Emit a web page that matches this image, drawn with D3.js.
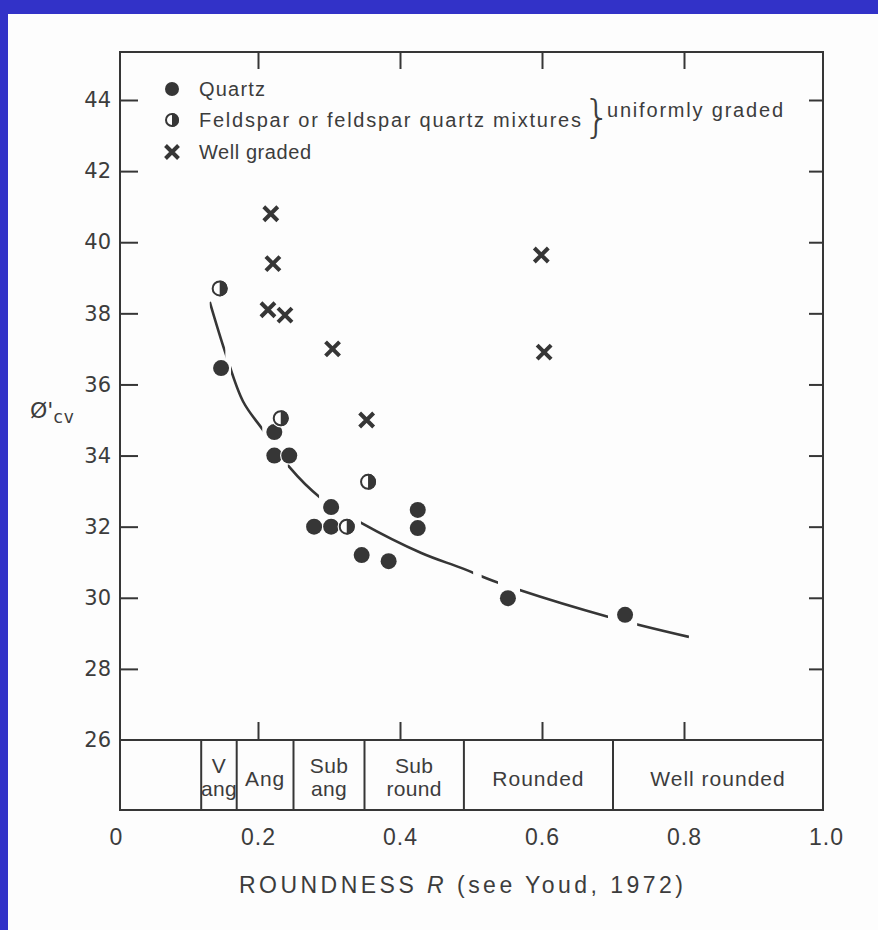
<!DOCTYPE html>
<html>
<head>
<meta charset="utf-8">
<script src="https://cdn.jsdelivr.net/npm/d3@7"></script>
<style>
  html, body { margin: 0; padding: 0; background: #3232c8; }
  svg { display: block; }
</style>
</head>
<body>
<svg id="chart" width="878" height="930"></svg>
<script>
// ---------- data ----------
const roundnessTicks = [0, 0.2, 0.4, 0.6, 0.8, 1.0];
const roundnessTickLabels = ["0", "0.2", "0.4", "0.6", "0.8", "1.0"];
const phiTicks = [26, 28, 30, 32, 34, 36, 38, 40, 42, 44];

const quartzR   = [0.148, 0.223, 0.223, 0.244, 0.279, 0.303, 0.303, 0.346, 0.384, 0.425, 0.425, 0.552, 0.717];
const quartzPhi = [36.46, 34.66, 34.00, 34.00, 32.00, 32.55, 32.00, 31.20, 31.03, 32.47, 31.96, 29.99, 29.52];

const feldsparR   = [0.146, 0.232, 0.355, 0.325];
const feldsparPhi = [38.70, 35.05, 33.26, 32.00];

const wellR   = [0.218, 0.221, 0.214, 0.238, 0.305, 0.353, 0.599, 0.603];
const wellPhi = [40.80, 39.40, 38.10, 37.95, 37.00, 35.00, 39.64, 36.91];

// hand-drawn trend curve (broken into dashes in the original)
const curveR   = [0.132, 0.155, 0.179, 0.207, 0.244, 0.287, 0.346, 0.430, 0.486, 0.539, 0.694, 0.807];
const curvePhi = [38.32, 36.83, 35.52, 34.72, 33.68, 32.83, 32.10, 31.26, 30.84, 30.42, 29.46, 28.90];
const curveSegStart = [0.132, 0.162, 0.242, 0.345, 0.515, 0.569, 0.734];
const curveSegEnd   = [0.154, 0.206, 0.286, 0.503, 0.538, 0.693, 0.807];

const classBounds = [0.12, 0.17, 0.25, 0.35, 0.49, 0.70, 1.0];
const classLabels = [["V", "ang"], ["Ang"], ["Sub", "ang"], ["Sub", "round"], ["Rounded"], ["Well rounded"]];

const legendLabels = ["Quartz", "Feldspar or feldspar quartz mixtures", "Well graded"];
const braceLabel = "uniformly graded";
const xTitle = ["ROUNDNESS ", "R", " (see Youd, 1972)"];

// ---------- layout ----------
const INK = "#363636";
const TXT = "#3c3c3c";
const PAPER = "#fdfdfd";
const svg = d3.select("#chart");

svg.append("rect").attr("x", 8).attr("y", 14).attr("width", 870).attr("height", 916).attr("fill", PAPER);

const frameL = 120, frameR = 823, frameT = 52, bandT = 740, bandB = 810;
const x = d3.scaleLinear().domain([0, 1]).range([116, 826]);
const y = d3.scaleLinear().domain([26, 44]).range([740, 100]);

const g = svg.append("g");
g.append("rect").attr("x", frameL).attr("y", frameT).attr("width", frameR - frameL).attr("height", bandB - frameT)
  .attr("fill", "none").attr("stroke", INK).attr("stroke-width", 2);
g.append("line").attr("x1", frameL).attr("x2", frameR).attr("y1", bandT).attr("y2", bandT)
  .attr("stroke", INK).attr("stroke-width", 2);

function styleAxis(sel) {
  sel.select(".domain").remove();
  sel.selectAll(".tick line").attr("stroke", INK).attr("stroke-width", 2);
  sel.selectAll(".tick text").attr("fill", TXT);
}

// left axis
const leftAx = g.append("g").attr("transform", `translate(${frameL},0)`)
  .call(d3.axisLeft(y).tickValues(phiTicks).tickSize(-18).tickPadding(9).tickFormat(d3.format("d")));
styleAxis(leftAx);
leftAx.selectAll(".tick text").attr("font-family", "DejaVu Sans").attr("font-size", 21);
leftAx.selectAll(".tick").filter(d => d === 26).select("line").remove();

// right axis ticks
const rightAx = g.append("g").attr("transform", `translate(${frameR},0)`)
  .call(d3.axisRight(y).tickValues(phiTicks.filter(d => d > 26)).tickSize(-14).tickFormat(""));
styleAxis(rightAx);

// top axis ticks
const topAx = g.append("g").attr("transform", `translate(0,${frameT})`)
  .call(d3.axisTop(x).tickValues([0.2, 0.4, 0.6, 0.8]).tickSize(-17).tickFormat(""));
styleAxis(topAx);

// ticks above the class band
const bandAx = g.append("g").attr("transform", `translate(0,${bandT})`)
  .call(d3.axisBottom(x).tickValues([0.2, 0.4, 0.6, 0.8]).tickSize(-18).tickFormat(""));
styleAxis(bandAx);

// bottom labels
const botAx = g.append("g").attr("transform", `translate(0,${bandB})`)
  .call(d3.axisBottom(x).tickValues(roundnessTicks).tickSize(0).tickPadding(19)
    .tickFormat((d, i) => roundnessTickLabels[i]));
styleAxis(botAx);
botAx.selectAll(".tick text").attr("font-family", "Liberation Sans").attr("font-size", 23)
  .attr("letter-spacing", 1);

// class band
classBounds.slice(0, -1).forEach((b) => {
  g.append("line").attr("x1", x(b)).attr("x2", x(b)).attr("y1", bandT).attr("y2", bandB)
    .attr("stroke", INK).attr("stroke-width", 2);
});
classLabels.forEach((lab, i) => {
  const cx = (x(classBounds[i]) + Math.min(x(classBounds[i + 1]), frameR)) / 2;
  const t = g.append("text").attr("x", cx).attr("text-anchor", "middle")
    .attr("font-family", "Liberation Sans").attr("font-size", 21).attr("fill", TXT)
    .attr("letter-spacing", lab.length === 1 ? 1 : 0.3);
  if (lab.length === 1) {
    t.attr("y", 786).text(lab[0]);
  } else {
    t.append("tspan").attr("x", cx).attr("y", 773).text(lab[0]);
    t.append("tspan").attr("x", cx).attr("y", 796).text(lab[1]);
  }
});

// x title
const tt = svg.append("text").attr("x", 461).attr("y", 893).attr("text-anchor", "middle")
  .attr("font-family", "Liberation Sans").attr("font-size", 23).attr("fill", TXT)
  .attr("textLength", 444).attr("lengthAdjust", "spacing");
tt.append("tspan").text(xTitle[0]);
tt.append("tspan").attr("font-style", "italic").text(xTitle[1]);
tt.append("tspan").text(xTitle[2]);

// y title
const yt = svg.append("text").attr("x", 30).attr("y", 418)
  .attr("font-family", "DejaVu Sans").attr("font-size", 22).attr("fill", TXT);
yt.append("tspan").text("Ø'");
yt.append("tspan").attr("font-size", 17).attr("dy", 5).attr("letter-spacing", 1).text("cv");

// ---------- fitted curve (drawn as broken strokes) ----------
const clip = svg.append("defs").append("clipPath").attr("id", "curveClip");
curveSegStart.forEach((s, i) => {
  clip.append("rect").attr("x", x(s)).attr("y", 0).attr("width", x(curveSegEnd[i]) - x(s)).attr("height", 930);
});
const curvePts = curveR.map((r, i) => [r, curvePhi[i]]);
g.append("path").datum(curvePts)
  .attr("d", d3.line().x(d => x(d[0])).y(d => y(d[1])).curve(d3.curveCatmullRom))
  .attr("fill", "none").attr("stroke", INK).attr("stroke-width", 2.6)
  .attr("clip-path", "url(#curveClip)");

// ---------- markers ----------
const R0 = 8;
function drawFilled(sel, cx, cy, r) {
  sel.append("circle").attr("cx", cx).attr("cy", cy).attr("r", r + 1.2).attr("fill", PAPER);
  sel.append("circle").attr("cx", cx).attr("cy", cy).attr("r", r).attr("fill", INK);
}
function drawHalf(sel, cx, cy, r) {
  sel.append("circle").attr("cx", cx).attr("cy", cy).attr("r", r + 1.2).attr("fill", PAPER);
  sel.append("circle").attr("cx", cx).attr("cy", cy).attr("r", r - 1).attr("fill", PAPER)
    .attr("stroke", INK).attr("stroke-width", 2);
  sel.append("path")
    .attr("d", `M${cx},${cy - r} A${r},${r} 0 0 1 ${cx},${cy + r} Z`)
    .attr("fill", INK);
}
function drawCross(sel, cx, cy, s) {
  sel.append("path")
    .attr("d", `M${cx - s},${cy - s}L${cx + s},${cy + s}M${cx - s},${cy + s}L${cx + s},${cy - s}`)
    .attr("stroke", INK).attr("stroke-width", 4).attr("fill", "none");
}
const mk = g.append("g");
wellR.forEach((r, i) => drawCross(mk, x(r), y(wellPhi[i]), 7));
quartzR.forEach((r, i) => drawFilled(mk, x(r), y(quartzPhi[i]), R0));
feldsparR.forEach((r, i) => drawHalf(mk, x(r), y(feldsparPhi[i]), R0));

// ---------- legend ----------
const lg = svg.append("g");
const legY = [89, 120, 152];
drawFilled(lg, 172, legY[0], 7);
drawHalf(lg, 172, legY[1], 7);
drawCross(lg, 172, legY[2], 6.5);
const legW = [66, 382, 112];
legendLabels.forEach((t, i) => {
  lg.append("text").attr("x", 199).attr("y", legY[i] + 7)
    .attr("font-family", "Liberation Sans").attr("font-size", 20).attr("fill", TXT)
    .attr("textLength", legW[i]).attr("lengthAdjust", "spacing").text(t);
});
// brace
lg.append("text").attr("x", 583).attr("y", 132)
  .attr("font-family", "DejaVu Sans").attr("font-size", 44).attr("font-weight", 200)
  .attr("fill", TXT).text("}");
lg.append("text").attr("x", 607).attr("y", 117)
  .attr("font-family", "Liberation Sans").attr("font-size", 20).attr("fill", TXT)
  .attr("textLength", 176).attr("lengthAdjust", "spacing").text(braceLabel);
</script>
</body>
</html>
